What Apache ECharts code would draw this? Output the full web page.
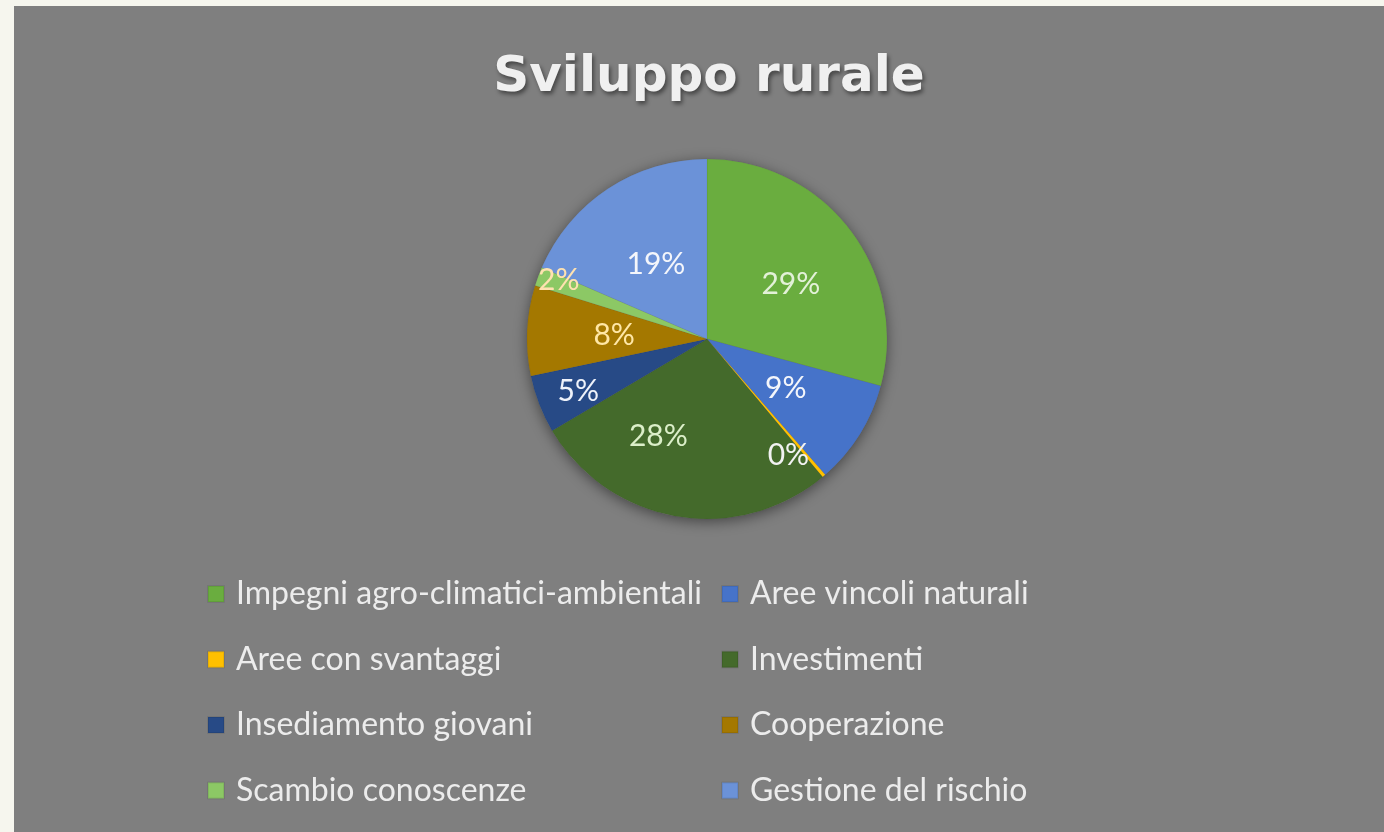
<!DOCTYPE html>
<html>
<head>
<meta charset="utf-8">
<title>Sviluppo rurale</title>
<script src="https://cdn.jsdelivr.net/npm/echarts@6/dist/echarts.min.js"></script>
<style>
  html, body { margin: 0; padding: 0; background: #f6f6ee; }
  #chart { width: 1384px; height: 832px; }
</style>
</head>
<body>
<div id="chart"></div>
<script>
// categories and shares (%)
const categories = [
  'Impegni agro-climatici-ambientali',
  'Aree vincoli naturali',
  'Aree con svantaggi',
  'Investimenti',
  'Insediamento giovani',
  'Cooperazione',
  'Scambio conoscenze',
  'Gestione del rischio'
]
const shares = [29.2, 9.4, 0.3, 27.6, 5.2, 8.1, 1.7, 18.5]

// styling
const sliceColors = ['#6aad3f', '#4673c9', '#ffc000', '#446a2b', '#274a86', '#a47800', '#8cc865', '#6b92d8']
const labelColors = ['#e3f1d8', '#f4f6fb', '#f2f2f2', '#dcefc9', '#eef2fa', '#ffe7a6', '#ffe2b0', '#f4f6fb']
const labelOffsets = [[10, 2], [0, 0], [21, 46], [-33, 6], [-42, 19], [0, 1], [-61, -26], [0, 3]]

const leftCol = [0, 2, 4, 6].map(i => categories[i])
const rightCol = [1, 3, 5, 7].map(i => categories[i])

const chart = echarts.init(document.getElementById('chart'))

const legendBase = {
  orient: 'vertical',
  top: 573,
  itemGap: 33.5,
  itemWidth: 16,
  itemHeight: 16,
  icon: 'rect',
  selectedMode: false,
  textStyle: {
    color: '#ececec',
    fontFamily: 'Lato',
    fontSize: 32,
    lineHeight: 30,
    padding: [0, 0, 0, 7]
  }
}

chart.setOption({
  backgroundColor: '#f6f6ee',
  color: sliceColors,
  graphic: [{
    type: 'rect',
    z: -10,
    shape: { x: 14, y: 6, width: 1370, height: 826 },
    style: { fill: '#7f7f7f' }
  }],
  title: {
    text: 'Sviluppo rurale',
    left: 704,
    textAlign: 'center',
    top: 48,
    textStyle: {
      color: '#f0f0f0',
      fontFamily: 'DejaVu Sans',
      fontWeight: 'bold',
      fontSize: 50,
      textShadowColor: 'rgba(0,0,0,0.45)',
      textShadowBlur: 4,
      textShadowOffsetX: 2,
      textShadowOffsetY: 3
    }
  },
  legend: [
    Object.assign({}, legendBase, { left: 202, data: leftCol }),
    Object.assign({}, legendBase, { left: 716, data: rightCol })
  ],
  series: [
    {
      // soft shadow under the pie
      type: 'pie',
      silent: true,
      center: [707, 339],
      radius: 180,
      z: 1,
      label: { show: false },
      labelLine: { show: false },
      itemStyle: {
        color: '#7f7f7f',
        shadowBlur: 14,
        shadowColor: 'rgba(0,0,0,0.45)',
        shadowOffsetY: 3
      },
      data: [{ value: 1, name: '' }],
      tooltip: { show: false }
    },
    {
      type: 'pie',
      center: [707, 339],
      radius: 180,
      z: 2,
      startAngle: 90,
      clockwise: true,
      avoidLabelOverlap: false,
      itemStyle: { borderColor: 'rgba(0,0,0,0.08)', borderWidth: 0.5 },
      label: {
        show: true,
        position: 'inner',
        fontFamily: 'Lato',
        fontSize: 30,
        formatter: p => Math.round(p.value) + '%'
      },
      labelLine: { show: false },
      data: categories.map((name, i) => ({
        name: name,
        value: shares[i],
        label: { color: labelColors[i], offset: labelOffsets[i] }
      }))
    }
  ]
})
</script>
</body>
</html>
